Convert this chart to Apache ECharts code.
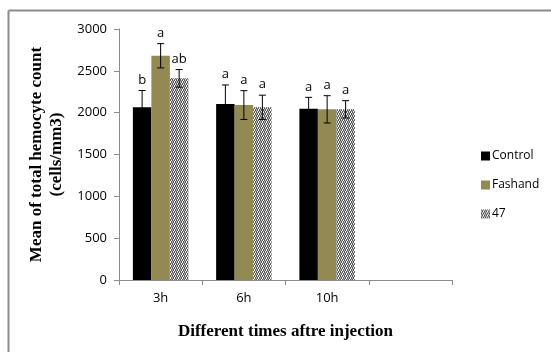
<!DOCTYPE html>
<html><head><meta charset="utf-8">
<script src="https://cdn.jsdelivr.net/npm/echarts@6/dist/echarts.min.js"></script>
<style>html,body{margin:0;padding:0;background:#fff}#c{width:551px;height:352px}</style>
</head><body><div id="c"></div>
<script>
var categories = ['3h', '6h', '10h', ''];
var controlVals = [2065, 2103, 2048, null];
var fashandVals = [2680, 2091, 2040, null];
var v47Vals = [2410, 2064, 2040, null];
var controlErr = [200, 228, 135, null];
var fashandErr = [145, 172, 163, null];
var v47Err = [105, 145, 103, null];
var controlLetters = ['b', 'a', 'a', ''];
var fashandLetters = ['a', 'a', 'a', ''];
var v47Letters = ['ab', 'a', 'a', ''];
var yTicks = [0, 500, 1000, 1500, 2000, 2500, 3000];

function makePattern() {
  var c = document.createElement('canvas');
  c.width = 4; c.height = 4;
  var g = c.getContext('2d');
  g.fillStyle = '#ffffff'; g.fillRect(0, 0, 4, 4);
  g.fillStyle = '#555555';
  [[0,0],[1,1],[2,0],[3,1],[1,2],[2,3],[3,2],[0,3]].forEach(function(p){ g.fillRect(p[0], p[1], 1, 1); });
  g.fillStyle = '#b4b4b4';
  [[1,0],[0,1],[0,2],[3,3]].forEach(function(p){ g.fillRect(p[0], p[1], 1, 1); });
  return c;
}
var pat = makePattern();
var patColor = { image: pat, repeat: 'repeat' };

var seriesDefs = [
  { name: 'Control', vals: controlVals, err: controlErr, letters: controlLetters, color: '#000000' },
  { name: 'Fashand', vals: fashandVals, err: fashandErr, letters: fashandLetters, color: '#938953' },
  { name: '47', vals: v47Vals, err: v47Err, letters: v47Letters, color: patColor }
];

var chart = echarts.init(document.getElementById('c'), null, { renderer: 'canvas' });
var series = [];
seriesDefs.forEach(function(s, si) {
  series.push({
    name: s.name, type: 'bar', data: s.vals, barWidth: 18.5, barGap: '0%',
    barCategoryGap: '33%',
    itemStyle: { color: s.color }, emphasis: { disabled: true }
  });
});
seriesDefs.forEach(function(s, si) {
  var data = s.vals.map(function(v, i) { return v == null ? null : [i, v, s.err[i], si, s.letters[i]]; }).filter(function(d){return d;});
  series.push({
    type: 'custom', name: s.name + '_err', z: 10, silent: true,
    renderItem: function(params, api) {
      var ci = api.value(0), v = api.value(1), e = api.value(2), idx = api.value(3);
      var center = api.coord([ci, v]);
      var barW = 18.5;
      var x = center[0] + (idx - 1) * barW;
      var top = api.coord([ci, v + e])[1];
      var bot = api.coord([ci, v - e])[1];
      var cap = 3.5;
      var st = { stroke: '#000', lineWidth: 1 };
      return { type: 'group', children: [
        { type: 'line', shape: { x1: x, y1: top, x2: x, y2: bot }, style: st },
        { type: 'line', shape: { x1: x - cap, y1: top, x2: x + cap, y2: top }, style: st },
        { type: 'line', shape: { x1: x - cap, y1: bot, x2: x + cap, y2: bot }, style: st },
        { type: 'text', style: { text: api.value(4), x: x, y: top - 4, textAlign: 'center', textVerticalAlign: 'bottom',
          font: '13px "Open Sans", sans-serif', fill: '#000' } }
      ]};
    },
    encode: { x: 0, y: 1 },
    data: data
  });
});

chart.setOption({
  animation: false,
  backgroundColor: '#ffffff',
  grid: { left: 119, top: 29, right: 99, bottom: 72, containLabel: false },
  legend: {
    orient: 'vertical', left: 476, top: 145, itemGap: 17, itemWidth: 9, itemHeight: 9,
    icon: 'rect',
    data: ['Control', 'Fashand', '47'],
    textStyle: { fontFamily: 'Open Sans', fontSize: 12, color: '#000', padding: [0, 0, 0, -3] }
  },
  xAxis: {
    type: 'category', data: categories,
    axisLine: { lineStyle: { color: '#8c8c8c' } },
    axisTick: { show: true, length: 5, lineStyle: { color: '#8c8c8c' } },
    axisLabel: { fontFamily: 'Open Sans', fontSize: 13, color: '#000', margin: 12 },
    name: 'Different times aftre injection', nameLocation: 'middle', nameGap: 43,
    nameTextStyle: { fontFamily: 'Liberation Serif', fontWeight: 'bold', fontSize: 17, color: '#000' }
  },
  yAxis: {
    type: 'value', min: 0, max: 3000, interval: 500,
    axisLine: { show: true, lineStyle: { color: '#8c8c8c' } },
    axisTick: { show: true, length: 5, lineStyle: { color: '#8c8c8c' } },
    splitLine: { show: false },
    axisLabel: { fontFamily: 'Open Sans', fontSize: 13, color: '#000', margin: 12,
      formatter: function(v){ return yTicks.indexOf(v) >= 0 ? String(v) : ''; } },
    name: 'Mean of total hemocyte count\n(cells/mm3)', nameLocation: 'middle', nameGap: 50,
    nameTextStyle: { fontFamily: 'Liberation Serif', fontWeight: 'bold', fontSize: 17, color: '#000', lineHeight: 20 }
  },
  graphic: [
    { type: 'line', shape: { x1: 8.5, y1: 10.5, x2: 551, y2: 10.5 }, style: { stroke: '#8c8c8c', lineWidth: 2 } },
    { type: 'line', shape: { x1: 8.5, y1: 10.5, x2: 8.5, y2: 352 }, style: { stroke: '#8c8c8c', lineWidth: 2 } }
  ],
  series: series
});
</script></body></html>
